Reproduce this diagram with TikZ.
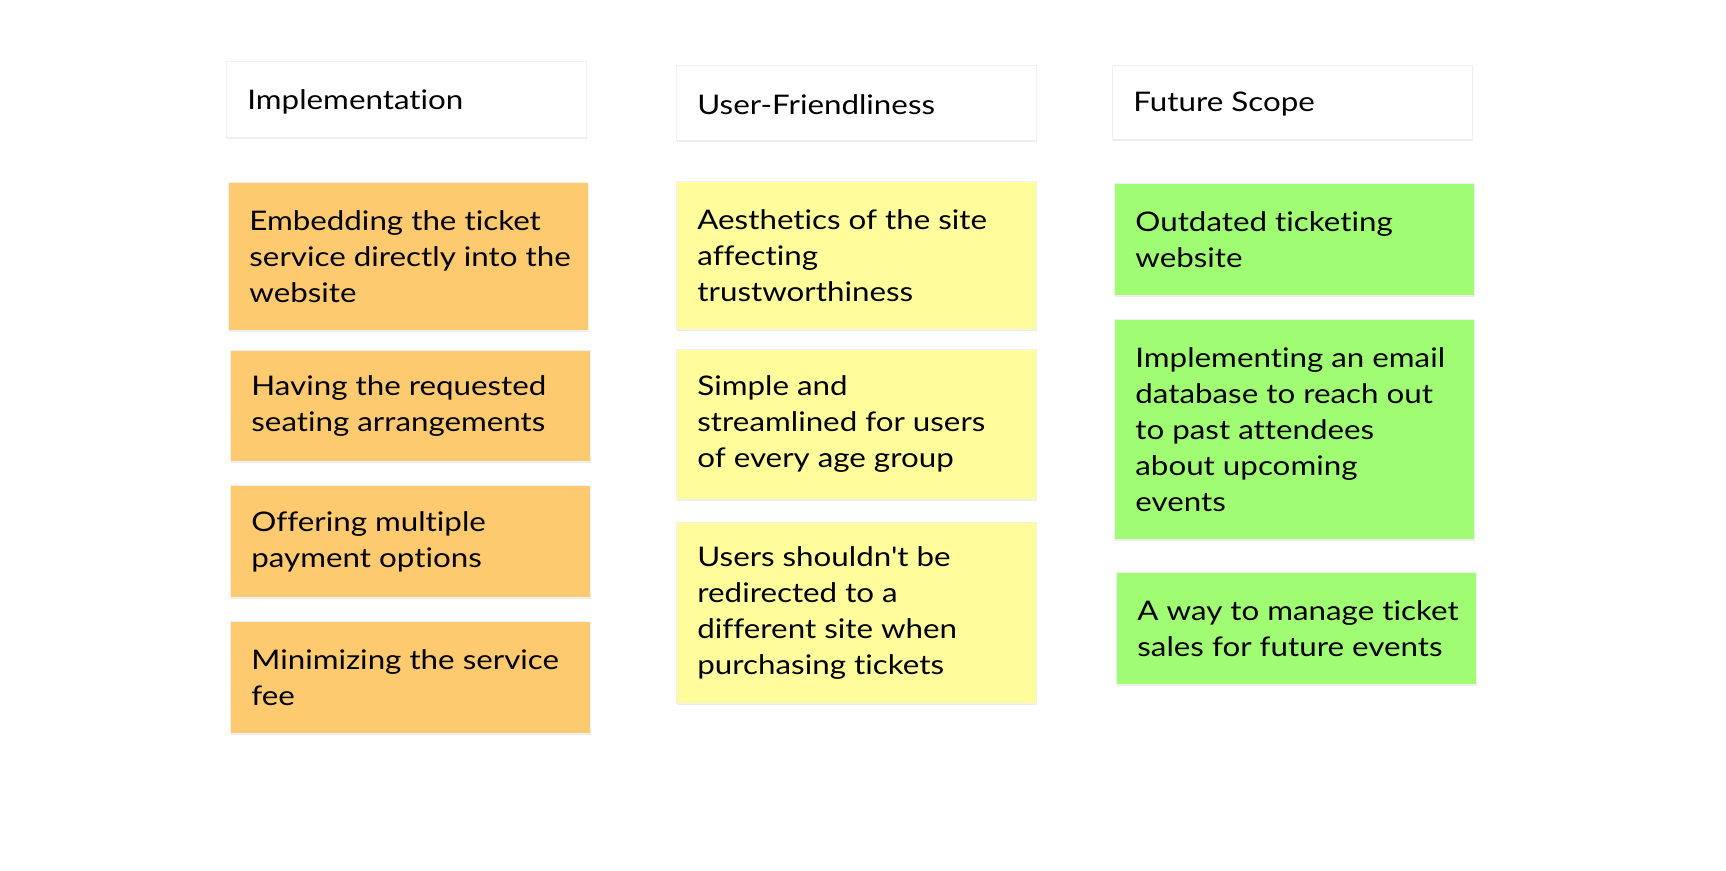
\documentclass[tikz,border=0pt]{standalone}
\usepackage{fontspec}
\setmainfont{Lato}[FakeStretch=1.16, Ligatures={NoCommon,TeXOff}]
\usetikzlibrary{shadows}
\definecolor{cardorange}{HTML}{FDCA6F}
\definecolor{cardyellow}{HTML}{FFFC9B}
\definecolor{cardgreen}{HTML}{A0FC72}
\tikzset{
  card/.style={anchor=north west, draw=black!6, line width=0.5pt, inner sep=0pt,
    minimum width=180pt,
    drop shadow={shadow xshift=0pt, shadow yshift=-0.9pt, fill=black, opacity=0.07}},
  header/.style={card, fill=white},
  txt/.style={anchor=west, align=left, inner sep=0pt, text=black,
    font=\fontsize{13.5pt}{18pt}\selectfont},
  htxt/.style={txt},
}
\begin{document}
\begin{tikzpicture}[x=0.5pt, y=-0.5pt]
  \fill[white] (0,0) rectangle (1726,871);
  \useasboundingbox (0,0) rectangle (1726,871);

  % column headers
  \node[header, minimum height=38pt] (h1) at (226,61) {};
  \node[htxt] (h1t) at ([xshift=10.5pt,yshift=-1pt]h1.west) {Implementation};
  \node[header, minimum height=37.5pt] (h2) at (676,65) {};
  \node[htxt] (h2t) at ([xshift=10.5pt,yshift=-1pt]h2.west) {User-Friendliness};
  \node[header, minimum height=37pt] (h3) at (1112,65) {};
  \node[htxt] (h3t) at ([xshift=10.5pt,yshift=-1pt]h3.west) {Future Scope};

  % implementation notes
  \node[card, fill=cardorange, minimum height=74pt] (a1) at (228,182) {};
  \node[txt] (a1t) at ([xshift=10.5pt]a1.west) {Embedding the ticket\\service directly into the\\website};
  \node[card, fill=cardorange, minimum height=55.5pt] (a2) at (230,350) {};
  \node[txt] (a2t) at ([xshift=10.5pt]a2.west) {Having the requested\\seating arrangements};
  \node[card, fill=cardorange, minimum height=56pt] (a3) at (230,485) {};
  \node[txt] (a3t) at ([xshift=10.5pt]a3.west) {Offering multiple\\payment options};
  \node[card, fill=cardorange, minimum height=56pt] (a4) at (230,621) {};
  \node[txt] (a4t) at ([xshift=10.5pt]a4.west) {Minimizing the service\\fee};

  % user-friendliness notes
  \node[card, fill=cardyellow, minimum height=74pt] (b1) at (676,181) {};
  \node[txt] (b1t) at ([xshift=10.5pt]b1.west) {Aesthetics of the site\\affecting\\trustworthiness};
  \node[card, fill=cardyellow, minimum height=75pt] (b2) at (676,349) {};
  \node[txt] (b2t) at ([xshift=10.5pt]b2.west) {Simple and\\streamlined for users\\of every age group};
  \node[card, fill=cardyellow, minimum height=90.5pt] (b3) at (676,522) {};
  \node[txt] (b3t) at ([xshift=10.5pt]b3.west) {Users shouldn't be\\redirected to a\\different site when\\purchasing tickets};

  % future scope notes
  \node[card, fill=cardgreen, minimum height=56pt] (c1) at (1114,183) {};
  \node[txt] (c1t) at ([xshift=10.5pt]c1.west) {Outdated ticketing\\website};
  \node[card, fill=cardgreen, minimum height=110pt] (c2) at (1114,319) {};
  \node[txt] (c2t) at ([xshift=10.5pt]c2.west) {Implementing an email\\database to reach out\\to past attendees\\about upcoming\\events};
  \node[card, fill=cardgreen, minimum height=56pt] (c3) at (1116,572) {};
  \node[txt] (c3t) at ([xshift=10.5pt]c3.west) {A way to manage ticket\\sales for future events};
\end{tikzpicture}
\end{document}
